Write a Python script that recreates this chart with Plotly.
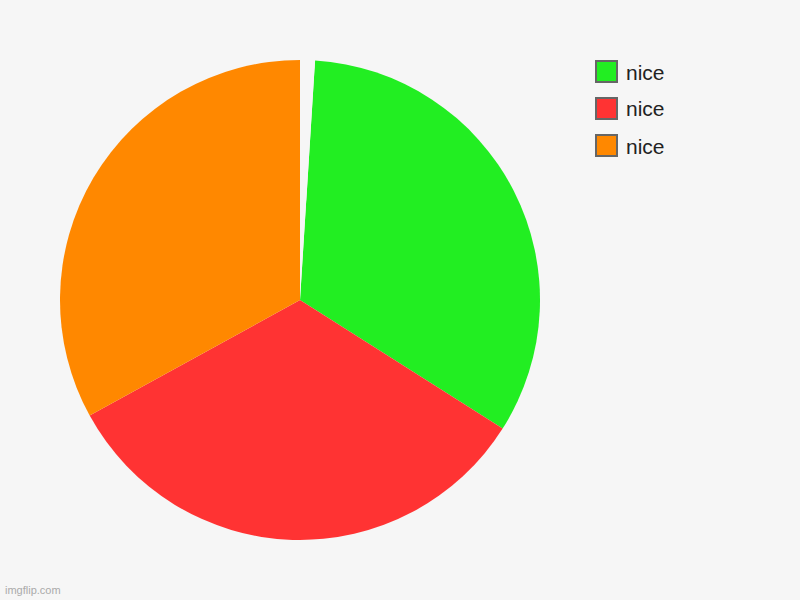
import plotly.graph_objects as go

# pie data: three "nice" slices plus a tiny blank gap slice at the top
labels = ["nice", "nice", "nice"]
values = [33, 33, 33]
colors = ["#22EE22", "#FF3333", "#FF8800"]
gap_value = 1

bg = "#F6F6F6"

fig = go.Figure()

# distinct keys so plotly does not merge identical labels
keys = [f"slice{i}" for i in range(len(labels))] + ["gap"]
fig.add_trace(go.Pie(
    labels=keys,
    values=values + [gap_value],
    marker=dict(colors=colors + [bg], line=dict(width=0)),
    sort=False,
    direction="clockwise",
    rotation=360 * gap_value / (sum(values) + gap_value),
    textinfo="none",
    hoverinfo="skip",
    showlegend=False,
    domain=dict(x=[60 / 800, 540 / 800], y=[60 / 600, 540 / 600]),
))

# hand-drawn legend (the gap slice must not appear in it)
for i, (lab, col) in enumerate(zip(labels, colors)):
    top = 61 + i * 37
    fig.add_shape(type="rect", xref="paper", yref="paper",
                  x0=596 / 800, x1=617 / 800,
                  y0=1 - (top + 21) / 600, y1=1 - top / 600,
                  fillcolor=col, line=dict(color="#666666", width=2))
    fig.add_annotation(xref="paper", yref="paper",
                       x=624 / 800, y=1 - (top + 11) / 600,
                       xanchor="left", yanchor="middle", showarrow=False,
                       text=lab, font=dict(family="Liberation Sans, Arial", size=21, color="#222222"))

fig.add_annotation(xref="paper", yref="paper", x=3 / 800, y=2 / 600,
                   xanchor="left", yanchor="bottom", showarrow=False,
                   text="imgflip.com",
                   font=dict(family="Liberation Sans, Arial", size=11, color="#AAAAAA"))

fig.update_layout(
    width=800, height=600,
    margin=dict(l=0, r=0, t=0, b=0),
    paper_bgcolor=bg, plot_bgcolor=bg,
)

# drop the browser's default body margin so the chart sits at the page corner
fig.write_html("out.html", config={"displayModeBar": False},
               post_script="document.body.style.margin='0';")
